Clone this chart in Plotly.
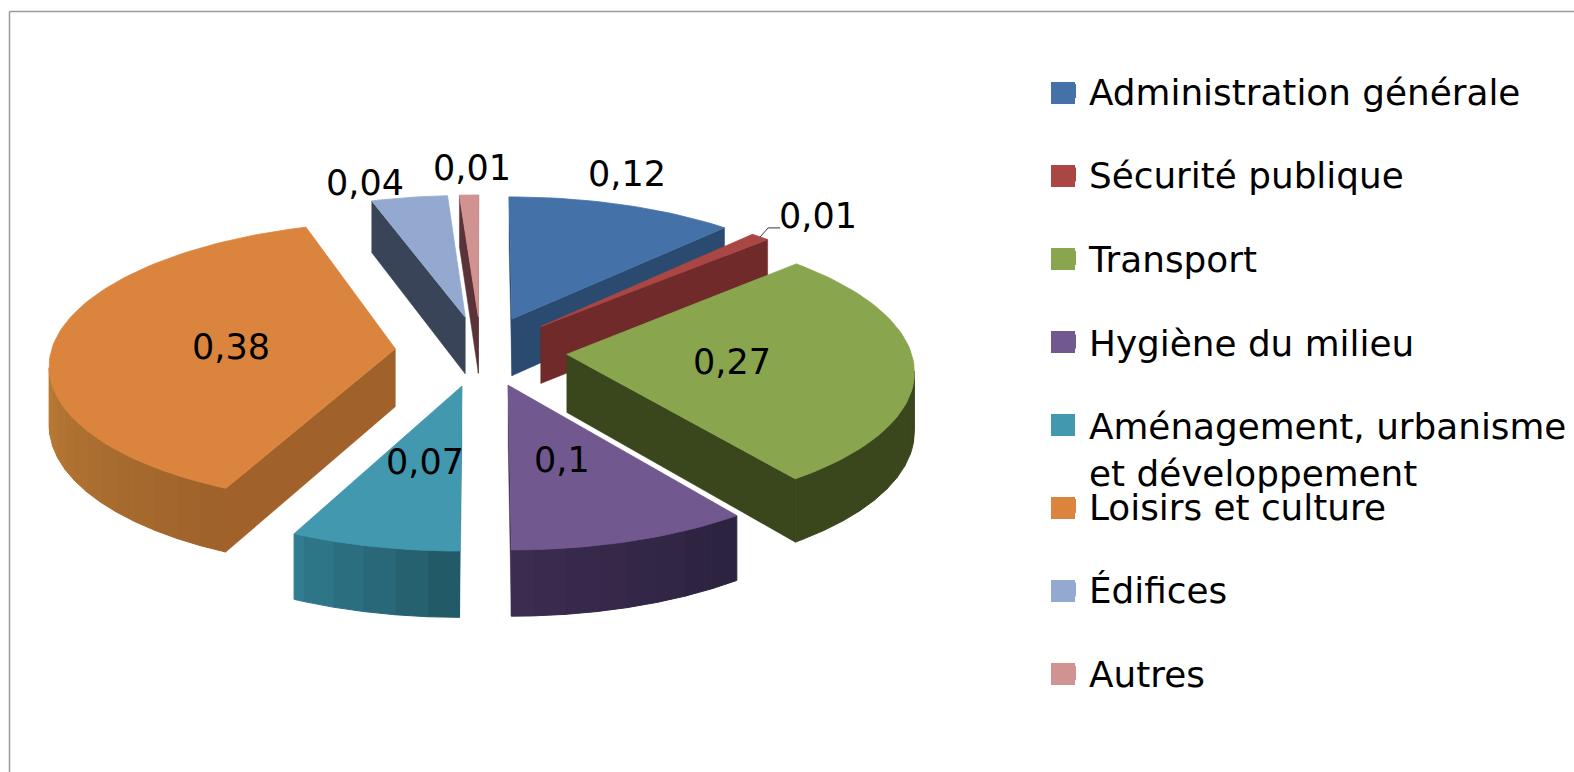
import math
import plotly.graph_objects as go

categories = ["Administration générale", "Sécurité publique", "Transport", "Hygiène du milieu",
              "Aménagement, urbanisme<br>et développement", "Loisirs et culture", "Édifices", "Autres"]
values = [0.12, 0.01, 0.27, 0.10, 0.07, 0.38, 0.04, 0.01]
top_colors = ["#4472A8", "#AA4644", "#89A54E", "#71588F", "#4198AF", "#DB843D", "#93A9CF", "#D19392"]
wall_light = ["#2A4A70", "#6F2A29", "#3A471D", "#3C2C50", "#317C90", "#B87A35", "#3A4458", "#5A3338"]
wall_dark = ["#2A4A70", "#6F2A29", "#3A471D", "#2C2340", "#235A68", "#9F622A", "#3A4458", "#5A3338"]
radial_color = ["#2A4A70", "#6F2A29", "#3A471D", "#3C2C50", "#317C90", "#A0622A", "#3A4458", "#5A3338"]
label_pos = [(627, 174), (818, 216), (732, 362), (562, 460), (425, 462), (231, 347), (365, 183), (472, 168)]
swatch_centers = [93, 176, 259, 342, 425, 508, 591, 674]

CX, CY, RX, RY, P, H, EXPLODE = 481, 351, 344, 140.6, 0.101, 58, 0.25
FONT = "DejaVu Sans"
FS = 35.8
LABEL_FS = 35


def project(u, v, z=0.0):
    s = 1 + P * v
    return CX + u * RX / s, CY - v * RY / s + z * H / s


def mix(a, b, t):
    ca = [int(a[i:i + 2], 16) for i in (1, 3, 5)]
    cb = [int(b[i:i + 2], 16) for i in (1, 3, 5)]
    return "#%02x%02x%02x" % tuple(round(x + (y - x) * t) for x, y in zip(ca, cb))


def poly(pts, color, lw=1.0):
    return go.Scatter(x=[p[0] for p in pts] + [pts[0][0]], y=[p[1] for p in pts] + [pts[0][1]],
                      mode="lines", fill="toself", fillcolor=color, line=dict(color=color, width=lw),
                      hoverinfo="skip", showlegend=False)


slices, cum = [], 0.0
for i, val in enumerate(values):
    a0, a1 = cum * 2 * math.pi, (cum + val) * 2 * math.pi
    cum += val
    mid = (a0 + a1) / 2
    ou, ov = EXPLODE * math.sin(mid), EXPLODE * math.cos(mid)
    n = max(4, int((a1 - a0) / math.radians(1.5)))
    arc = [(ou + math.sin(a0 + (a1 - a0) * k / n), ov + math.cos(a0 + (a1 - a0) * k / n)) for k in range(n + 1)]
    slices.append(dict(i=i, apex=(ou, ov), arc=arc))

BAND = 3
fig = go.Figure()
for s in sorted(slices, key=lambda q: -q["apex"][1]):
    i, apex, arc = s["i"], s["apex"], s["arc"]
    for P0, Q0 in ((apex, arc[0]), (arc[-1], apex)):
        a, b = project(*P0), project(*Q0)
        if b[0] < a[0]:
            fig.add_trace(poly([a, b, project(*Q0, 1), project(*P0, 1)], radial_color[i], 0.5))
    edges = [k for k in range(len(arc) - 1) if project(*arc[k + 1])[0] < project(*arc[k])[0]]
    if edges:
        starts = list(range(0, len(edges), BAND))
        for j, st in enumerate(starts):
            chunk = edges[st:st + BAND]
            run = [arc[k] for k in chunk] + [arc[chunk[-1] + 1]]
            t = j / max(1, len(starts) - 1)
            pts = [project(*p) for p in run] + [project(*p, 1) for p in reversed(run)]
            fig.add_trace(poly(pts, mix(wall_dark[i], wall_light[i], t)))
    fig.add_trace(poly([project(*apex)] + [project(*p) for p in arc], top_colors[i], 0.8))

for i, name in enumerate(categories):
    key = "rgba(0,0,0,0)" if "<br>" in name else top_colors[i]
    fig.add_trace(go.Scatter(x=[None], y=[None], mode="markers", name=name, legendgroup=str(i),
                             legend="legend" if i < 5 else "legend2",
                             marker=dict(symbol="square", size=14, color=key, line=dict(width=0))))

red = slices[1]
lx, ly = project(*red["arc"][len(red["arc"]) // 2])
fig.add_trace(go.Scatter(x=[lx, lx + 8, lx + 20], y=[ly, ly - 9, ly - 9], mode="lines",
                         line=dict(color="#333333", width=1), hoverinfo="skip", showlegend=False))

annotations = [dict(x=x, y=y, xref="x", yref="y", text=f"{v:g}".replace(".", ","), showarrow=False,
                    font=dict(family=FONT, size=LABEL_FS, color="#000000"))
               for v, (x, y) in zip(values, label_pos)]

shapes = [dict(type="line", xref="x", yref="y", x0=9.5, x1=9.5, y0=11.5, y1=772, line=dict(color="#9A9A9A", width=1.5)),
          dict(type="line", xref="x", yref="y", x0=9.5, x1=1574, y0=11.5, y1=11.5, line=dict(color="#9A9A9A", width=1.5))]
for yc, col in zip(swatch_centers, top_colors):
    shapes.append(dict(type="rect", xref="x", yref="y", x0=1051, x1=1075, y0=yc - 11, y1=yc + 11,
                       fillcolor=col, line=dict(width=0), layer="above"))

legend_style = dict(font=dict(family=FONT, size=FS, color="#000000"), bgcolor="rgba(0,0,0,0)",
                    tracegroupgap=34, itemsizing="trace", itemclick=False, itemdoubleclick=False,
                    xanchor="left", yanchor="top", borderwidth=0)

fig.update_layout(
    width=1574, height=772, autosize=False, margin=dict(l=0, r=0, t=0, b=0, autoexpand=False),
    paper_bgcolor="white", plot_bgcolor="white",
    xaxis=dict(range=[0, 1574], visible=False, fixedrange=True),
    yaxis=dict(range=[772, 0], visible=False, fixedrange=True),
    annotations=annotations, shapes=shapes,
    legend=dict(x=1049 / 1574, y=1 - 61.2 / 772, **legend_style),
    legend2=dict(x=1049 / 1574, y=1 - 476.2 / 772, **legend_style),
)
fig.write_html("out.html", config=dict(displayModeBar=False),
               post_script="document.body.style.margin='0';document.body.style.overflow='hidden';")
